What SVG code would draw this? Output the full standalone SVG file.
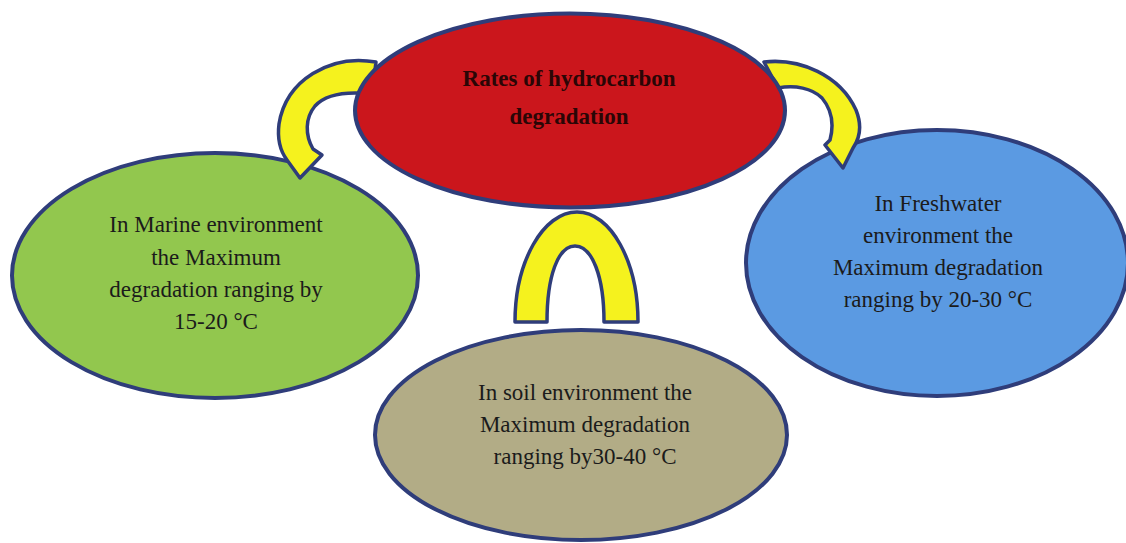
<svg xmlns="http://www.w3.org/2000/svg" width="1126" height="543" viewBox="0 0 1126 543">
<style>
.node{stroke:#2F3D7A;stroke-width:4}
.arrow{fill:#F5F21E;stroke:#2F3D7A;stroke-width:3.5;stroke-linejoin:round}
.t{font-family:"Liberation Serif","Times New Roman",serif;font-size:23px;fill:#1b1b1b;text-anchor:middle}
.tb{font-weight:bold;fill:#2a0606}
</style>
<rect width="1126" height="543" fill="#ffffff"/>
<g id="node-marine">
<ellipse class="node" cx="215" cy="275.5" rx="203" ry="122.5" fill="#92C74E"/>
<text class="t" x="216" y="232">In Marine environment</text>
<text class="t" x="216" y="265">the Maximum</text>
<text class="t" x="216" y="297">degradation ranging by</text>
<text class="t" x="216" y="329">15-20 °C</text>
</g>
<g id="node-freshwater">
<ellipse class="node" cx="937" cy="263" rx="191" ry="133" fill="#5B9AE2"/>
<text class="t" x="938" y="211">In Freshwater</text>
<text class="t" x="938" y="243">environment the</text>
<text class="t" x="938" y="275">Maximum degradation</text>
<text class="t" x="938" y="307">ranging by 20-30 °C</text>
</g>
<g id="node-soil">
<ellipse class="node" cx="581" cy="435" rx="206" ry="105" fill="#B2AC86"/>
<text class="t" x="585" y="400">In soil environment the</text>
<text class="t" x="585" y="432">Maximum degradation</text>
<text class="t" x="585" y="464">ranging by30-40 °C</text>
</g>
<g id="connectors">
<path class="arrow" d="M 376,62 C 330,54 286,80 279,124 C 277,140 281,152 287,160 L 300,178 L 322,155 L 313,149 C 305,135 305,118 315,106 C 325,95 345,91 372,94 Z"/>
<path class="arrow" d="M 764,62 C 800,58 840,75 856,110 C 862,125 860,138 853,148 L 843,168 L 825,145 L 830,140 C 834,125 832,110 822,98 C 812,88 795,85 778,88 Z"/>
<path class="arrow" d="M 515,322 C 515,262 543,212 577,212 C 611,212 638,262 638,322 L 604,322 C 604,276 592,246 575,246 C 558,246 547,276 547,322 Z"/>
</g>
<g id="node-rates">
<ellipse class="node" cx="570" cy="110.5" rx="215" ry="97" fill="#CB161C"/>
<text class="t tb" x="569" y="86">Rates of hydrocarbon</text>
<text class="t tb" x="569" y="124">degradation</text>
</g>
</svg>
